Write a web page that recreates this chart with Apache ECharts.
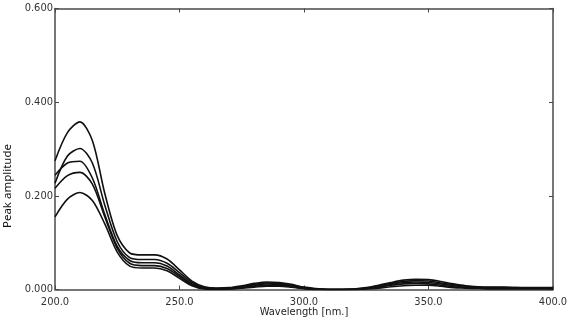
<!DOCTYPE html>
<html>
<head>
<meta charset="utf-8">
<script src="https://cdn.jsdelivr.net/npm/echarts@6/dist/echarts.min.js"></script>
<style>
  html, body { margin: 0; padding: 0; background: #fff; }
  #spectra { width: 567px; height: 322px; }
</style>
</head>
<body>
<div id="spectra"></div>
<script>
// wavelength grid (nm)
var wavelengths = [200, 205, 210, 215, 220, 225, 230, 235, 240, 245,
  250, 255, 260, 265, 270, 275, 280, 285, 290, 295,
  300, 305, 310, 315, 320, 325, 330, 335, 340, 345,
  350, 355, 360, 365, 370, 375, 380, 385, 390, 395, 400];

// peak amplitude of each spectrum
var spectrum1 = [0.275, 0.335, 0.358, 0.318, 0.205, 0.115, 0.078, 0.074, 0.074, 0.065,
  0.042, 0.018, 0.006, 0.003, 0.004, 0.008, 0.013, 0.016, 0.015, 0.011,
  0.005, 0.002, 0.000, 0.000, 0.001, 0.004, 0.009, 0.015, 0.020, 0.022,
  0.021, 0.017, 0.012, 0.008, 0.006, 0.005, 0.005, 0.004, 0.004, 0.004, 0.004];
var spectrum2 = [0.227, 0.285, 0.301, 0.270, 0.180, 0.102, 0.068, 0.064, 0.064, 0.056,
  0.036, 0.015, 0.004, 0.002, 0.003, 0.006, 0.011, 0.014, 0.013, 0.009,
  0.004, 0.001, 0.000, 0.000, 0.001, 0.003, 0.008, 0.013, 0.017, 0.019,
  0.018, 0.014, 0.010, 0.007, 0.005, 0.004, 0.004, 0.004, 0.003, 0.003, 0.003];
var spectrum3 = [0.244, 0.270, 0.274, 0.238, 0.160, 0.092, 0.062, 0.057, 0.057, 0.050,
  0.031, 0.012, 0.003, 0.001, 0.002, 0.005, 0.009, 0.012, 0.011, 0.007,
  0.003, 0.001, 0.000, 0.000, 0.000, 0.002, 0.006, 0.011, 0.015, 0.016,
  0.015, 0.012, 0.008, 0.005, 0.004, 0.003, 0.003, 0.003, 0.003, 0.003, 0.003];
var spectrum4 = [0.216, 0.243, 0.250, 0.225, 0.155, 0.088, 0.056, 0.051, 0.051, 0.045,
  0.028, 0.010, 0.002, 0.001, 0.002, 0.004, 0.007, 0.009, 0.009, 0.006,
  0.002, 0.000, 0.000, 0.000, 0.000, 0.002, 0.005, 0.009, 0.012, 0.013,
  0.012, 0.009, 0.006, 0.004, 0.003, 0.002, 0.002, 0.002, 0.002, 0.002, 0.002];
var spectrum5 = [0.155, 0.193, 0.207, 0.190, 0.140, 0.080, 0.050, 0.046, 0.046, 0.040,
  0.024, 0.008, 0.001, 0.000, 0.001, 0.003, 0.005, 0.007, 0.007, 0.005,
  0.002, 0.000, 0.000, 0.000, 0.000, 0.001, 0.003, 0.006, 0.008, 0.009,
  0.009, 0.007, 0.004, 0.003, 0.002, 0.001, 0.001, 0.001, 0.001, 0.001, 0.001];

var spectra = [spectrum1, spectrum2, spectrum3, spectrum4, spectrum5];

var frameColor = '#4a4a4a';
var labelFont = '"Liberation Sans Narrow", "DejaVu Sans Condensed", sans-serif';

function pairs(values) {
  return wavelengths.map(function (w, i) { return [w, values[i]]; });
}

var myChart = echarts.init(document.getElementById('spectra'));

var xBase = {
  type: 'value', min: 200, max: 400, interval: 50,
  axisLine: { show: true, onZero: false, lineStyle: { color: frameColor, width: 1.5 } },
  axisTick: { show: true, inside: true, length: 4, lineStyle: { color: frameColor, width: 1 } },
  splitLine: { show: false }
};
var yBase = {
  type: 'value', min: 0, max: 0.6, interval: 0.2,
  axisLine: { show: true, onZero: false, lineStyle: { color: frameColor, width: 1.5 } },
  axisTick: { show: true, inside: true, length: 4, lineStyle: { color: frameColor, width: 1 } },
  splitLine: { show: false }
};

myChart.setOption({
  animation: false,
  backgroundColor: '#fff',
  // v6 would otherwise squeeze the grid to keep labels inside
  grid: { left: 55, right: 14, top: 8.5, bottom: 32.5, containLabel: false, outerBoundsMode: 'none' },
  xAxis: [
    Object.assign({}, xBase, {
      position: 'bottom',
      name: 'Wavelength [nm.]',
      nameLocation: 'middle',
      nameGap: 17,
      nameMoveOverlap: false,
      nameTextStyle: { color: '#222', fontSize: 11, fontFamily: labelFont },
      axisLabel: {
        color: '#333', fontSize: 11, fontFamily: labelFont, margin: 7,
        formatter: function (v) { return v.toFixed(1); }
      }
    }),
    Object.assign({}, xBase, { position: 'top', axisLabel: { show: false } })
  ],
  yAxis: [
    Object.assign({}, yBase, {
      position: 'left',
      axisLabel: {
        color: '#333', fontSize: 11, fontFamily: labelFont, margin: 2,
        formatter: function (v) { return v.toFixed(3); }
      }
    }),
    Object.assign({}, yBase, { position: 'right', axisLabel: { show: false } })
  ],
  graphic: [{
    type: 'text',
    x: 8, y: 186,
    rotation: Math.PI / 2,
    style: {
      text: 'Peak amplitude',
      fill: '#111',
      font: '11.5px "Noto Sans", sans-serif',
      textAlign: 'center',
      textVerticalAlign: 'middle'
    }
  }],
  series: spectra.map(function (s, i) {
    return {
      name: 'spectrum ' + (i + 1),
      type: 'line',
      xAxisIndex: 0,
      yAxisIndex: 0,
      data: pairs(s),
      smooth: 0.3,
      showSymbol: false,
      lineStyle: { color: '#111', width: 1.6 }
    };
  })
});
</script>
</body>
</html>
